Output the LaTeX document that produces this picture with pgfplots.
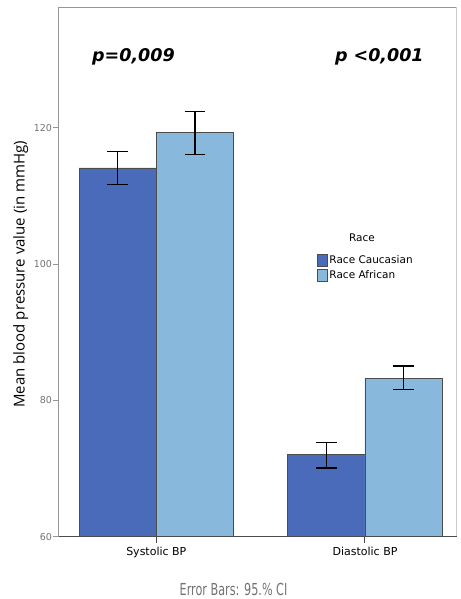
\documentclass[border=0pt]{standalone}
\usepackage{pgfplots}
\pgfplotsset{compat=1.18}
\usetikzlibrary{calc}
\usepackage{graphicx}
\usepackage{fontspec}
\setmainfont{DejaVu Sans}
\newfontfamily\labfont{Open Sans}
\definecolor{cauc}{RGB}{74,106,186}
\definecolor{afr}{RGB}{136,184,220}
\definecolor{framegray}{RGB}{150,150,150}
\definecolor{tickgray}{RGB}{115,115,115}
\begin{document}
\begin{tikzpicture}
\useasboundingbox (-58.7pt,-62.3pt) rectangle (401.3pt,536.7pt);
\begin{axis}[
  name=ax,
  at={(0pt,0pt)}, anchor=south west,
  scale only axis, width=397.8pt, height=529.2pt,
  xmin=-0.4677, xmax=1.4385, ymin=60, ymax=137.65,
  axis line style={draw=none},
  ybar=0pt, bar width=0.3704,
  xtick={0,1}, xticklabels={Systolic BP, Diastolic BP},
  ytick={60,80,100,120},
  xtick pos=bottom, ytick pos=left,
  tick align=outside, major tick length=6pt,
  ytick style={color=framegray, line width=1pt},
  xtick style={color=black!70, line width=1pt},
  /pgf/number format/assume math mode=true,
  yticklabel style={font=\fontsize{9.5}{10}\selectfont, text=tickgray, inner sep=0.5pt},
  xticklabel style={font=\fontsize{11}{12}\selectfont, inner sep=2pt, yshift=-2.5pt},
  ylabel={Mean blood pressure value (in mmHg)},
  every axis y label/.style={at={(rel axis cs:0,0.496)}, xshift=-38pt, rotate=90, anchor=center, font=\labfont\fontsize{15}{17}\selectfont},
  legend style={draw=none, fill=none, at={(rel axis cs:0.648,0.536)}, anchor=north west,
    font=\fontsize{10.5}{12}\selectfont, row sep=2pt, inner sep=0pt},
  legend cell align=left,
  legend image code/.code={\draw[#1, line width=0.8pt] (0pt,-6pt) rectangle (10pt,6pt);},
]
\addplot[fill=cauc, draw=black!70, line width=0.8pt,
  error bars/.cd, y dir=both, y explicit,
  error bar style={black, line width=1.4pt},
  error mark options={rotate=90, mark size=10.3pt, line width=1.4pt, black}]
  coordinates {(0,114.1) += (0,2.4) -= (0,2.4)
               (1,72.05) += (0,1.8) -= (0,1.96)};
\addlegendentry{Race Caucasian}
\addplot[fill=afr, draw=black!70, line width=0.8pt,
  error bars/.cd, y dir=both, y explicit,
  error bar style={black, line width=1.4pt},
  error mark options={rotate=90, mark size=10.3pt, line width=1.4pt, black}]
  coordinates {(0,119.3) += (0,3.1) -= (0,3.2)
               (1,83.26) += (0,1.76) -= (0,1.7)};
\addlegendentry{Race African}
\end{axis}
\draw[framegray, line width=1.3pt] (ax.south west) -- (ax.north west) -- (ax.north east);
\draw[black!20, line width=0.8pt] (ax.north east) -- (ax.south east);
\draw[black!70, line width=1.5pt] (ax.south west) -- (ax.south east);
\node[font=\bfseries\itshape\fontsize{17.5}{20}\selectfont, anchor=base] at ($(ax.south west)!0.188!(ax.south east) + (0,474.7pt)$) {p=0,009};
\node[font=\bfseries\itshape\fontsize{17.5}{20}\selectfont, anchor=base] at ($(ax.south west)!0.806!(ax.south east) + (0,474.7pt)$) {p <0,001};
\node[font=\fontsize{10.5}{12}\selectfont, anchor=center] at ($(ax.south west)!0.7625!(ax.south east) + (0,299pt)$) {Race};
\node[font=\fontsize{16.5}{18}\selectfont, text=tickgray, anchor=base, inner sep=0pt] at ($(ax.south west)!0.4395!(ax.south east) + (0,-58.5pt)$) {\scalebox{0.68}[1]{Error Bars: 95.\% CI}};
\end{tikzpicture}
\end{document}
